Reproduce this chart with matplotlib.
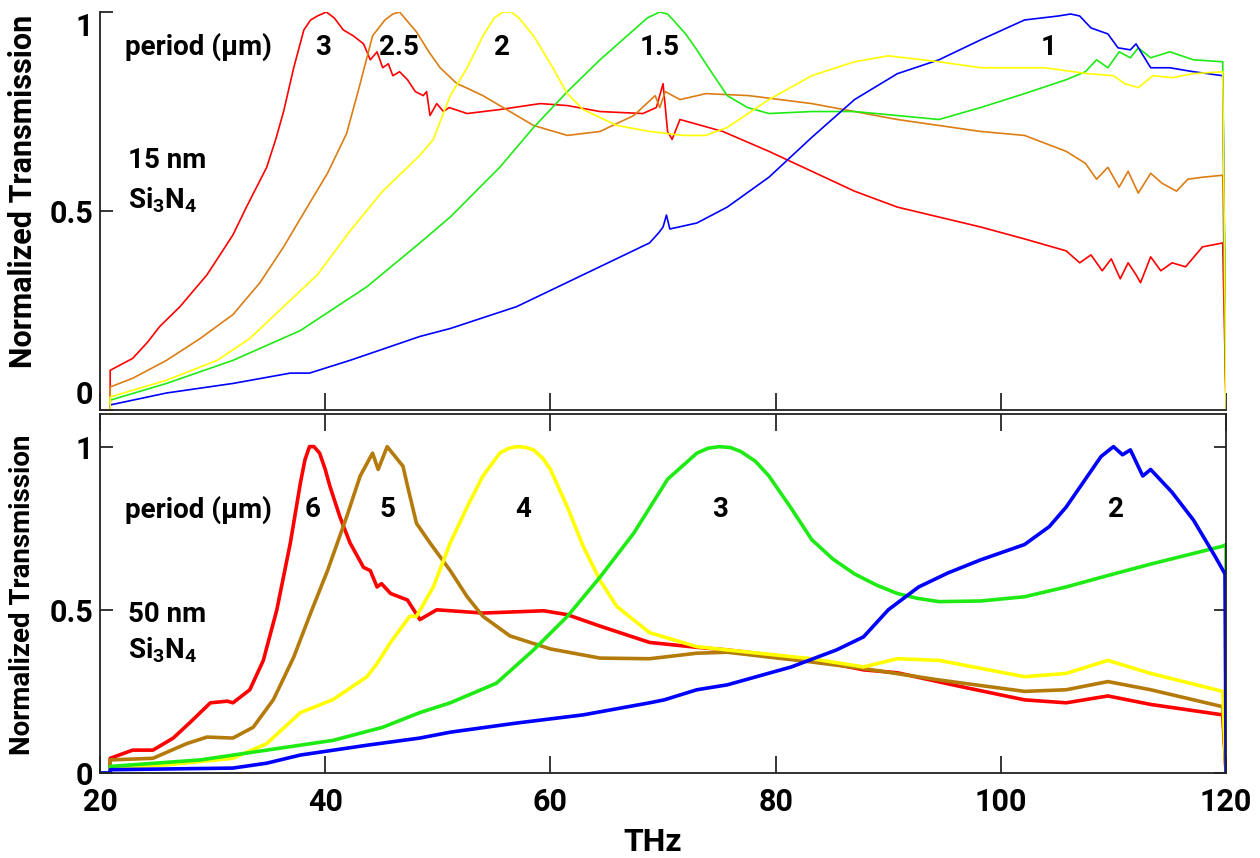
import numpy as np
import matplotlib
matplotlib.use('Agg')
import matplotlib.pyplot as plt

plt.rcParams['font.family'] = ['Roboto', 'DejaVu Sans']
plt.rcParams['font.weight'] = 'bold'
plt.rcParams['mathtext.fontset'] = 'custom'
plt.rcParams['mathtext.rm'] = 'Roboto:bold'

# ---- 15 nm Si3N4, period 3 / 2.5 / 2 / 1.5 / 1 um  (THz, normalized T) ----
red_15 = [(20, 0), (20.9, 0), (20.9, 0.10), (22.9, 0.13), (24.2, 0.17), (25.3, 0.21), (27.1, 0.26),
          (29.5, 0.34), (31.8, 0.44), (33.0, 0.51), (34.8, 0.61), (35.6, 0.68), (36.3, 0.75),
          (37.2, 0.86), (38.1, 0.955), (38.7, 0.98), (39.3, 0.99), (40.1, 1.0), (40.8, 0.985),
          (41.6, 0.955), (42.5, 0.94), (43.4, 0.92), (44.0, 0.88), (44.6, 0.90), (45.1, 0.86),
          (45.6, 0.87), (46.0, 0.84), (46.6, 0.85), (47.3, 0.83), (48.0, 0.80), (48.7, 0.79),
          (49.0, 0.80), (49.3, 0.74), (49.9, 0.77), (50.5, 0.75), (51.0, 0.76), (52.6, 0.745),
          (55.5, 0.755), (59.1, 0.77), (61.5, 0.765), (64.4, 0.75), (68.2, 0.745), (69.4, 0.76),
          (70.0, 0.82), (70.4, 0.70), (70.8, 0.68), (71.5, 0.73), (75.3, 0.70), (79.4, 0.65),
          (83.2, 0.60), (87.0, 0.55), (90.8, 0.51), (94.5, 0.485), (98.2, 0.46), (102.1, 0.43),
          (105.8, 0.40), (107.0, 0.37), (108.0, 0.39), (109.0, 0.35), (109.8, 0.38), (110.6, 0.33),
          (111.3, 0.37), (112.0, 0.34), (112.4, 0.32), (113.3, 0.385), (114.2, 0.35), (115.2, 0.37),
          (116.4, 0.36), (117.9, 0.41), (119.7, 0.42), (120, 0)]
orange_15 = [(20, 0), (20.9, 0), (20.9, 0.058), (22.9, 0.08), (25.9, 0.125), (28.9, 0.18), (31.8, 0.24),
             (34.2, 0.32), (36.3, 0.41), (38.4, 0.51), (40.2, 0.595), (41.9, 0.695), (43.1, 0.82),
             (44.2, 0.94), (45.3, 0.98), (46.0, 0.995), (46.6, 1.0), (47.2, 0.98), (48.1, 0.95),
             (49.2, 0.90), (50.2, 0.86), (51.7, 0.82), (52.5, 0.81), (54.0, 0.79), (55.8, 0.76),
             (58.5, 0.715), (61.5, 0.69), (64.4, 0.70), (67.4, 0.74), (69.3, 0.79), (69.7, 0.76),
             (70.2, 0.80), (71.5, 0.78), (73.8, 0.795), (77.6, 0.79), (83.2, 0.77), (90.8, 0.73),
             (98.2, 0.70), (102.1, 0.69), (105.8, 0.65), (107.5, 0.62), (108.5, 0.58), (109.5, 0.61),
             (110.5, 0.56), (111.3, 0.60), (112.2, 0.545), (113.3, 0.595), (114.3, 0.57), (115.6, 0.55),
             (116.6, 0.58), (117.9, 0.585), (119.7, 0.59), (120, 0)]
yellow_15 = [(20, 0), (20.9, 0), (20.9, 0.033), (25.9, 0.075), (30.4, 0.125), (33.3, 0.18), (36.3, 0.26),
             (39.3, 0.34), (42.2, 0.45), (45.1, 0.55), (48.4, 0.64), (49.6, 0.68), (51.1, 0.79),
             (52.6, 0.86), (54.0, 0.94), (55.0, 0.985), (55.8, 1.0), (56.5, 1.0), (57.2, 0.985),
             (58.5, 0.94), (60.0, 0.87), (61.5, 0.795), (62.9, 0.755), (65.9, 0.715), (68.8, 0.70),
             (71.8, 0.69), (73.8, 0.69), (75.7, 0.71), (79.4, 0.78), (83.2, 0.84), (87.0, 0.875),
             (90.0, 0.89), (94.5, 0.875), (98.2, 0.86), (103.9, 0.86), (107.7, 0.845), (110.0, 0.84),
             (111.0, 0.82), (112.2, 0.81), (113.5, 0.84), (115.2, 0.835), (117.0, 0.845), (119.7, 0.85),
             (120, 0)]
green_15 = [(20, 0), (20.9, 0), (20.9, 0.025), (25.9, 0.067), (31.8, 0.125), (37.8, 0.20), (43.7, 0.31),
            (48.4, 0.42), (51.1, 0.485), (55.5, 0.61), (58.5, 0.71), (61.5, 0.80), (64.4, 0.88),
            (67.4, 0.955), (68.6, 0.985), (69.7, 1.0), (70.4, 0.995), (70.9, 0.98), (72.0, 0.945),
            (73.0, 0.905), (73.8, 0.87), (75.7, 0.79), (77.5, 0.76), (79.4, 0.745), (83.2, 0.75),
            (87.0, 0.75), (90.8, 0.74), (94.5, 0.73), (98.2, 0.76), (102.1, 0.795), (105.8, 0.83),
            (107.5, 0.85), (108.5, 0.88), (109.5, 0.86), (110.5, 0.90), (111.5, 0.885), (112.2, 0.91),
            (113.3, 0.885), (115.0, 0.90), (117.1, 0.88), (119.7, 0.875), (120, 0)]
blue_15 = [(20, 0), (20.9, 0), (20.9, 0.013), (25.9, 0.043), (31.8, 0.067), (36.9, 0.093), (38.6, 0.093),
           (42.2, 0.125), (48.4, 0.185), (51.1, 0.205), (57.0, 0.26), (62.9, 0.34), (68.8, 0.42),
           (69.6, 0.445), (70.0, 0.46), (70.3, 0.49), (70.6, 0.455), (73.0, 0.47), (75.7, 0.51),
           (79.4, 0.585), (83.2, 0.685), (87.0, 0.78), (90.8, 0.845), (94.5, 0.88), (98.2, 0.93),
           (102.1, 0.98), (105.1, 0.99), (106.2, 0.995), (107.0, 0.99), (108.0, 0.96), (109.5, 0.945),
           (110.4, 0.91), (111.5, 0.905), (112.0, 0.92), (113.3, 0.86), (115.0, 0.86), (117.1, 0.85),
           (119.7, 0.84), (120, 0)]

# ---- 50 nm Si3N4, period 6 / 5 / 4 / 3 / 2 um ----
red_50 = [(20, 0), (20.9, 0), (20.9, 0.045), (22.9, 0.07), (24.7, 0.07), (26.5, 0.107), (28.0, 0.155),
          (29.8, 0.215), (31.3, 0.22), (31.8, 0.215), (33.3, 0.255), (34.5, 0.345), (35.7, 0.50),
          (36.9, 0.705), (37.8, 0.89), (38.2, 0.96), (38.6, 1.0), (39.0, 1.0), (39.5, 0.98),
          (40.0, 0.93), (40.4, 0.88), (41.3, 0.785), (42.2, 0.705), (43.4, 0.63), (44.0, 0.62),
          (44.6, 0.57), (45.0, 0.58), (45.8, 0.55), (47.3, 0.53), (48.4, 0.47), (49.9, 0.50),
          (54.0, 0.49), (59.4, 0.497), (61.5, 0.485), (64.4, 0.45), (68.8, 0.40), (73.0, 0.385),
          (75.7, 0.377), (83.2, 0.347), (87.8, 0.316), (90.8, 0.307), (96.4, 0.265), (102.1, 0.224),
          (105.8, 0.215), (109.5, 0.236), (113.3, 0.21), (119.7, 0.178), (120, 0)]
brown_50 = [(20, 0), (20.9, 0), (20.9, 0.04), (24.7, 0.045), (27.7, 0.09), (29.5, 0.11), (31.8, 0.107),
            (33.6, 0.14), (35.4, 0.225), (37.2, 0.355), (38.7, 0.49), (40.2, 0.62), (41.9, 0.785),
            (43.1, 0.91), (44.2, 0.98), (44.7, 0.93), (45.5, 1.0), (46.9, 0.94), (47.3, 0.88),
            (48.1, 0.765), (49.3, 0.705), (51.1, 0.62), (52.6, 0.54), (54.0, 0.48), (56.4, 0.42),
            (60.0, 0.38), (64.4, 0.352), (68.8, 0.35), (73.0, 0.367), (75.7, 0.37), (83.2, 0.34),
            (87.8, 0.32), (94.5, 0.285), (102.1, 0.25), (105.8, 0.255), (109.5, 0.28), (113.3, 0.255),
            (119.7, 0.203), (120, 0)]
yellow_50 = [(20, 0), (20.9, 0), (20.9, 0.015), (25.9, 0.025), (31.8, 0.045), (34.8, 0.09), (37.8, 0.185),
             (40.7, 0.225), (43.7, 0.295), (44.6, 0.335), (45.8, 0.40), (47.5, 0.48), (48.1, 0.48),
             (49.6, 0.57), (51.1, 0.705), (52.6, 0.815), (54.0, 0.91), (55.5, 0.98), (56.3, 0.995),
             (57.0, 1.0), (57.8, 0.998), (58.5, 0.99), (59.3, 0.965), (60.0, 0.93), (61.5, 0.815),
             (62.9, 0.695), (64.4, 0.59), (65.9, 0.51), (68.8, 0.43), (73.0, 0.387), (75.7, 0.377),
             (83.2, 0.35), (87.8, 0.325), (90.8, 0.35), (94.5, 0.345), (102.1, 0.295), (105.8, 0.305),
             (109.5, 0.345), (113.3, 0.305), (119.7, 0.25), (120, 0)]
green_50 = [(20, 0), (20.9, 0), (20.9, 0.02), (28.9, 0.04), (34.8, 0.07), (40.7, 0.10), (45.1, 0.14),
            (48.4, 0.185), (51.1, 0.215), (55.2, 0.275), (58.5, 0.377), (61.5, 0.48), (64.4, 0.60),
            (67.4, 0.735), (70.4, 0.90), (73.0, 0.98), (74.0, 0.995), (75.0, 1.0), (76.0, 0.997),
            (76.9, 0.985), (78.2, 0.955), (79.4, 0.91), (81.4, 0.81), (83.2, 0.715), (85.1, 0.655),
            (87.0, 0.61), (89.0, 0.575), (90.8, 0.55), (92.6, 0.535), (94.5, 0.525), (98.2, 0.527),
            (102.1, 0.54), (105.8, 0.57), (109.5, 0.605), (113.3, 0.64), (119.7, 0.695), (120, 0.70),
            (120, 0)]
blue_50 = [(20, 0), (20.9, 0), (20.9, 0.01), (31.8, 0.015), (34.8, 0.03), (37.8, 0.055), (43.7, 0.085),
           (48.4, 0.107), (51.1, 0.125), (57.0, 0.153), (62.9, 0.178), (68.8, 0.215), (70.1, 0.224),
           (73.0, 0.255), (75.7, 0.27), (81.4, 0.325), (85.4, 0.377), (87.8, 0.417), (90.0, 0.50),
           (92.7, 0.57), (95.3, 0.613), (98.2, 0.653), (102.1, 0.70), (104.3, 0.755), (105.8, 0.815),
           (107.7, 0.91), (108.9, 0.97), (110.0, 1.0), (110.8, 0.975), (111.5, 0.99), (112.6, 0.91),
           (113.3, 0.93), (115.2, 0.86), (117.1, 0.775), (119.0, 0.665), (119.9, 0.61), (120, 0)]

periods_15 = ['3', '2.5', '2', '1.5', '1']
period_pos_15 = [39.8, 46.5, 55.7, 69.7, 104.2]
periods_50 = ['6', '5', '4', '3', '2']
period_pos_50 = [38.9, 45.5, 57.6, 75.1, 110.2]

c_red, c_orange, c_yellow, c_green, c_blue = '#ff0000', '#dc7d14', '#ffff00', '#1eea14', '#0000ff'
c_brown = '#b47a0a'

fig = plt.figure(figsize=(12.6, 8.58), dpi=100)
ax1 = fig.add_axes([0.0794, 0.522, 0.8937, 0.464])
ax2 = fig.add_axes([0.0794, 0.0991, 0.8937, 0.4184])

# 上图 15 nm
for curve, col in [(red_15, c_red), (orange_15, c_orange), (green_15, c_green),
                   (blue_15, c_blue), (yellow_15, c_yellow)]:
    d = np.array(curve)
    ax1.plot(d[:, 0], d[:, 1], color=col, lw=1.2)

# 下图 50 nm
for curve, col in [(red_50, c_red), (brown_50, c_brown), (yellow_50, c_yellow),
                   (green_50, c_green), (blue_50, c_blue)]:
    d = np.array(curve)
    ax2.plot(d[:, 0], d[:, 1], color=col, lw=2.6)

for ax in (ax1, ax2):
    ax.set_xlim(20, 120)
    ax.set_xticks([20, 40, 60, 80, 100, 120])
    ax.set_yticks([0, 0.5, 1])
    ax.set_yticklabels(['0', '0.5', '1'])
    for s in ax.spines.values():
        s.set_linewidth(1.3)
        s.set_color('#222222')

ax1.set_ylim(0, 1.0)
ax1.spines['top'].set_visible(False)
ax1.spines['right'].set_visible(False)
ax1.tick_params(direction='in', length=9, width=1.1, labelsize=22, pad=5)
ax1.tick_params(axis='x', labelbottom=False, length=12)
labs = ax1.get_yticklabels()
labs[0].set_va('bottom')
labs[2].set_va('top')

ax2.set_ylim(0, 1.1)
ax2.tick_params(direction='in', length=9, width=1.1, labelsize=22, pad=5,
                top=True, right=True)
ax2.tick_params(axis='x', pad=10, length=12)

tfont = {'size': 20, 'weight': 'bold'}
ax1.text(22.2, 0.912, 'period (µm)', ha='left', va='center', fontdict=tfont)
for lab, xp in zip(periods_15, period_pos_15):
    ax1.text(xp, 0.912, lab, ha='center', va='center', fontdict=tfont)
ax1.text(22.5, 0.628, '15 nm', ha='left', va='center', fontdict=tfont)
ax1.text(22.5, 0.528, r'$\mathrm{Si_3N_4}$', ha='left', va='center', fontdict=tfont)

ax2.text(22.2, 0.807, 'period (µm)', ha='left', va='center', fontdict=tfont)
for lab, xp in zip(periods_50, period_pos_50):
    ax2.text(xp, 0.807, lab, ha='center', va='center', fontdict=tfont)
ax2.text(22.5, 0.485, '50 nm', ha='left', va='center', fontdict=tfont)
ax2.text(22.5, 0.375, r'$\mathrm{Si_3N_4}$', ha='left', va='center', fontdict=tfont)

fig.text(23 / 1260, 1 - 191 / 858, 'Normalized Transmission', rotation=90,
         ha='center', va='center', fontsize=22, fontweight='bold')
fig.text(23 / 1260, 1 - 595 / 858, 'Normalized Transmission', rotation=90,
         ha='center', va='center', fontsize=20, fontweight='bold')
fig.text(653 / 1260, 1 - 842 / 858, 'THz', ha='center', va='center',
         fontsize=23, fontweight='bold')

fig.savefig('out.png', dpi=100)
